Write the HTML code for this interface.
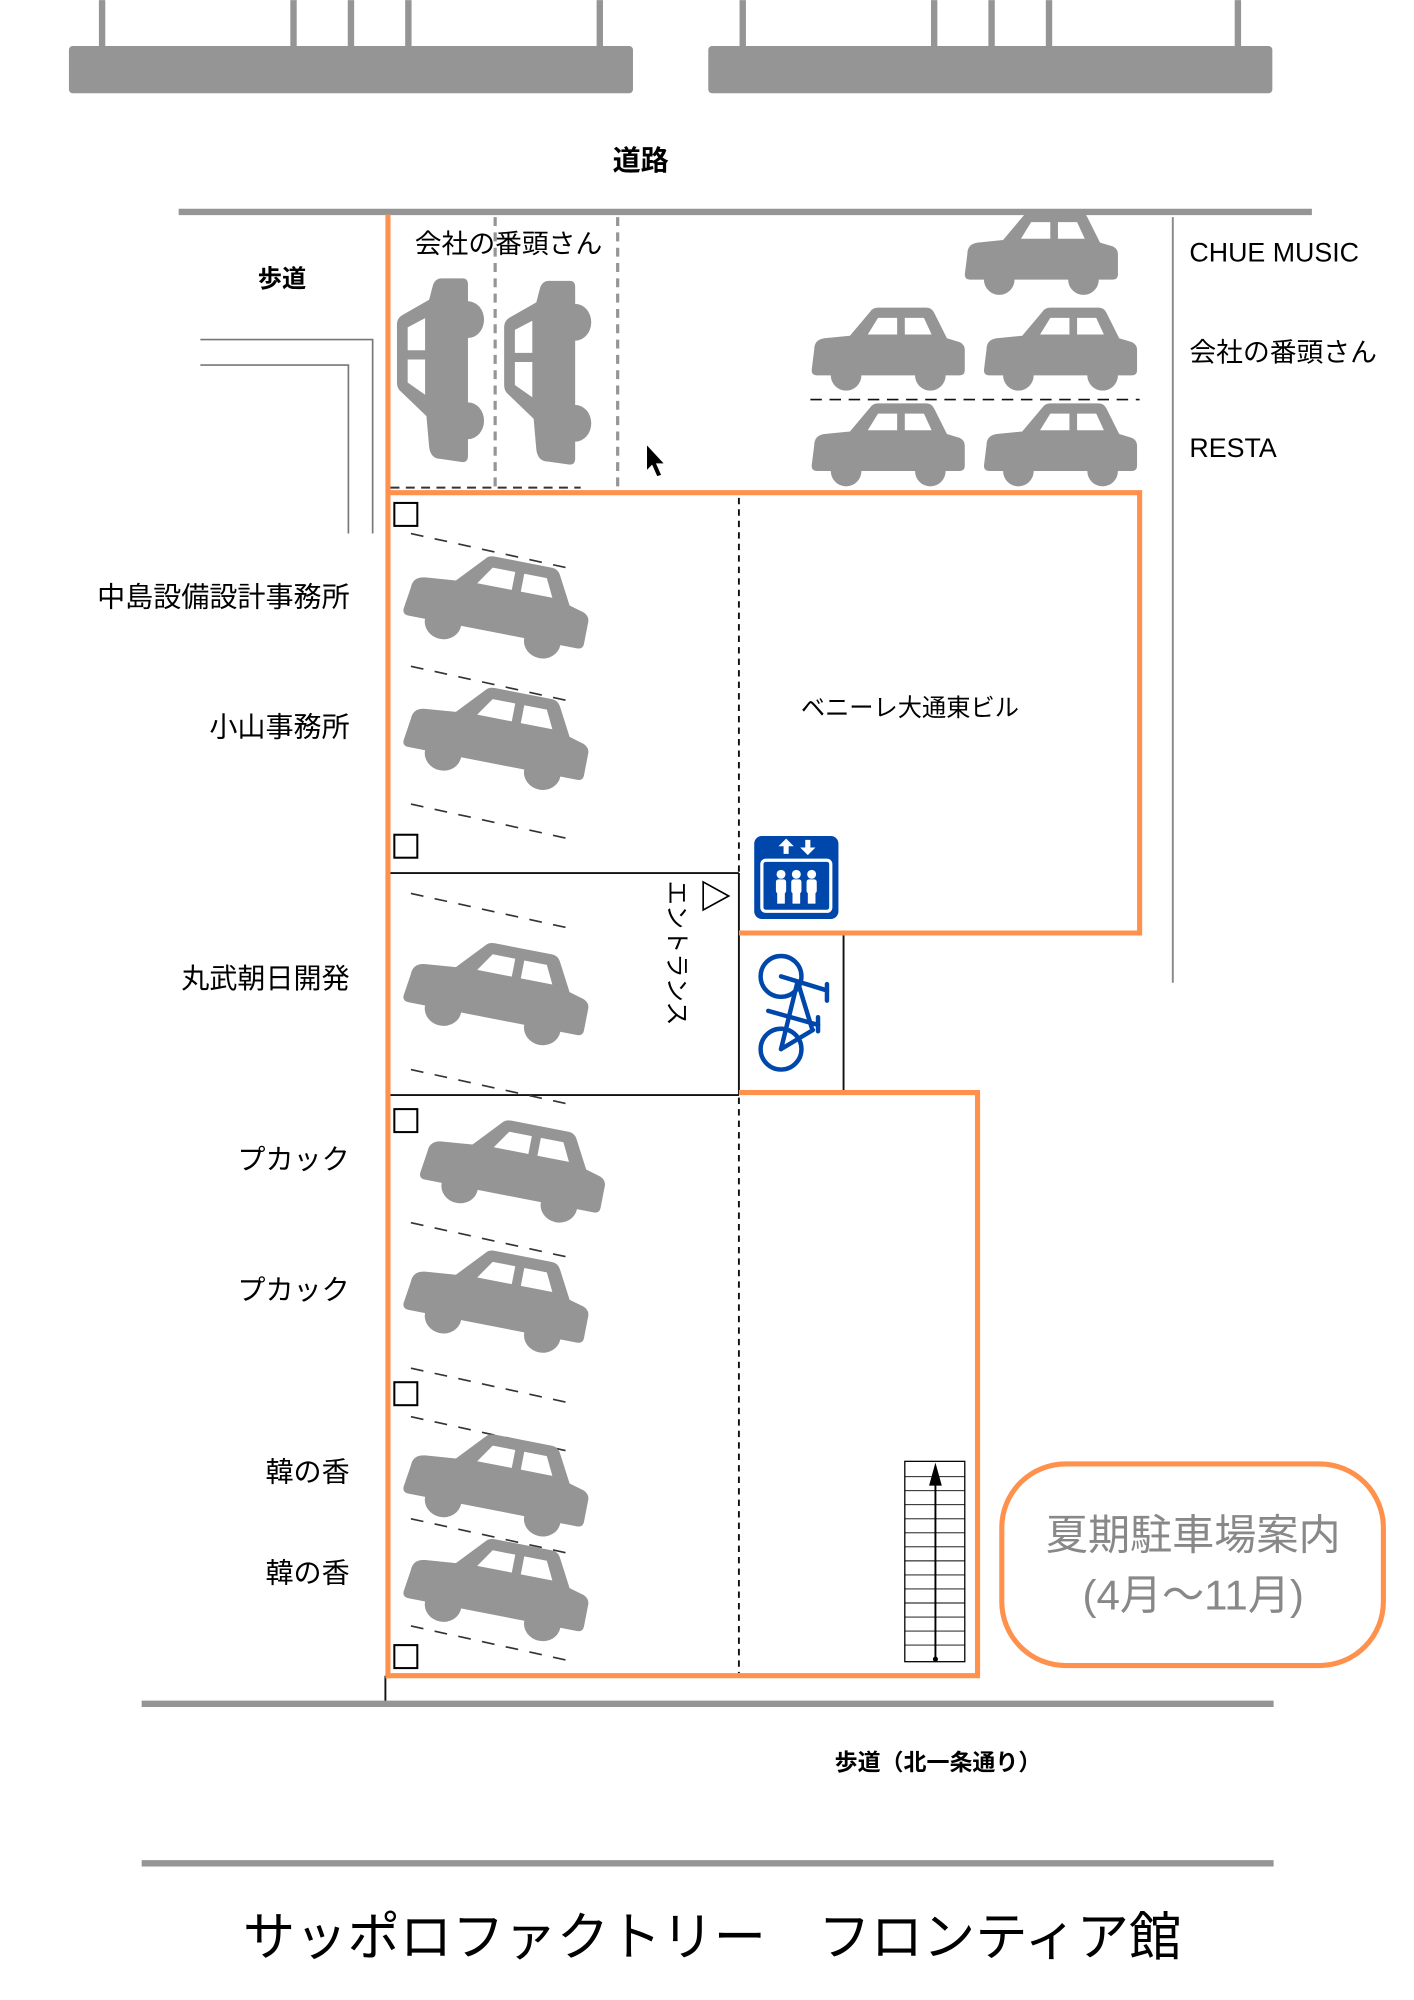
<!DOCTYPE html>
<html><head><meta charset="utf-8"><style>
html,body{margin:0;padding:0;background:#fff}
svg{display:block}
text{font-family:"Liberation Sans","Noto Sans CJK JP",sans-serif}
</style></head><body>
<svg width="1414" height="2000" viewBox="0 0 1108 1567" xmlns="http://www.w3.org/2000/svg">
<defs>
<g id="car">
<path d="M-58,-6 Q-58,-14 -50,-15 L-30,-17 L-14,-36 Q-12,-39 -8,-39 L30,-39 Q34,-39 36,-35 L46,-15 L56,-12 Q60,-10 60,-6 L60,10 Q60,14 56,14 L-56,14 Q-60,14 -60,10 Z" fill="#959595"/>
<circle cx="-33" cy="14" r="12" fill="#959595"/><circle cx="33" cy="14" r="12" fill="#959595"/>
<path d="M-16,-18 L-8,-31 L7,-31 L7,-18 Z M13,-18 L13,-31 L28,-31 L34,-18 Z" fill="#fff"/>
</g>
</defs>
<rect width="1108" height="1567" fill="#fff"/>
<g stroke="#959595" stroke-width="5">
<line x1="80" y1="0" x2="80" y2="38"/><line x1="230" y1="0" x2="230" y2="38"/><line x1="275" y1="0" x2="275" y2="38"/><line x1="320" y1="0" x2="320" y2="38"/><line x1="470" y1="0" x2="470" y2="38"/>
<line x1="582" y1="0" x2="582" y2="38"/><line x1="732" y1="0" x2="732" y2="38"/><line x1="777" y1="0" x2="777" y2="38"/><line x1="822" y1="0" x2="822" y2="38"/><line x1="970" y1="0" x2="970" y2="38"/>
</g>
<rect x="54" y="36" width="442" height="37" rx="3" fill="#959595"/>
<rect x="555" y="36" width="442" height="37" rx="3" fill="#959595"/>
<text x="502" y="133" font-size="22" font-weight="bold" text-anchor="middle">道路</text>
<line x1="140" y1="166" x2="1028" y2="166" stroke="#959595" stroke-width="5"/>
<text x="221" y="225" font-size="19" font-weight="bold" text-anchor="middle">歩道</text>
<polyline points="157,266 292,266 292,418" fill="none" stroke="#777" stroke-width="1.3"/>
<polyline points="157,286 273,286 273,418" fill="none" stroke="#777" stroke-width="1.3"/>
<g stroke="#959595" stroke-width="2.5" stroke-dasharray="7,5">
<line x1="388" y1="170" x2="388" y2="383"/><line x1="484" y1="170" x2="484" y2="383"/>
</g>
<line x1="306" y1="382" x2="455" y2="382" stroke="#333" stroke-width="1.5" stroke-dasharray="7,5"/>
<use href="#car" transform="translate(352,290) rotate(-90) scale(1.2,1.05)"/>
<use href="#car" transform="translate(436,292) rotate(-90) scale(1.2,1.05)"/>
<text x="325" y="198" font-size="21">会社の番頭さん</text>
<use href="#car" transform="translate(816,205)"/>
<use href="#car" transform="translate(696,280)"/>
<use href="#car" transform="translate(831,280)"/>
<use href="#car" transform="translate(696,355)"/>
<use href="#car" transform="translate(831,355)"/>
<line x1="635" y1="313" x2="893" y2="313" stroke="#111" stroke-width="1.3" stroke-dasharray="9,6"/>
<line x1="919" y1="170" x2="919" y2="770" stroke="#888" stroke-width="1.5"/>
<text x="932" y="205" font-size="21">CHUE MUSIC</text>
<text x="932" y="283" font-size="21">会社の番頭さん</text>
<text x="932" y="358" font-size="21">RESTA</text>
<path d="M507,349 L507,368 L511,364 L515,373 L518,372 L514,363 L520,363 Z" fill="#000"/>
<g stroke="#111" stroke-width="1.5" stroke-dasharray="5,4">
<line x1="579" y1="390" x2="579" y2="684"/><line x1="579" y1="860" x2="579" y2="1311"/>
</g>
<g stroke="#111" stroke-width="1.5" fill="none">
<line x1="306" y1="684" x2="579" y2="684"/><line x1="306" y1="858" x2="579" y2="858"/>
<line x1="579" y1="684" x2="579" y2="858"/>
<line x1="661" y1="731" x2="661" y2="855"/>
<line x1="302" y1="1313" x2="302" y2="1334"/>
</g>
<g stroke="#333" stroke-width="1.3" stroke-dasharray="10,9">
<line x1="322" y1="418" x2="445" y2="445"/>
<line x1="322" y1="522" x2="445" y2="549"/>
<line x1="322" y1="630" x2="445" y2="657"/>
<line x1="322" y1="700" x2="445" y2="727"/>
<line x1="322" y1="838" x2="445" y2="865"/>
<line x1="322" y1="958" x2="445" y2="985"/>
<line x1="322" y1="1072" x2="445" y2="1099"/>
<line x1="322" y1="1110" x2="445" y2="1137"/>
<line x1="322" y1="1190" x2="445" y2="1217"/>
<line x1="322" y1="1274" x2="445" y2="1301"/>
</g>
<g>
<use href="#car" transform="translate(389,480) rotate(11) scale(1.2,1.1)"/>
<use href="#car" transform="translate(389,583) rotate(11) scale(1.2,1.1)"/>
<use href="#car" transform="translate(389,783) rotate(11) scale(1.2,1.1)"/>
<use href="#car" transform="translate(402,922) rotate(11) scale(1.2,1.1)"/>
<use href="#car" transform="translate(389,1024) rotate(11) scale(1.2,1.1)"/>
<use href="#car" transform="translate(389,1168) rotate(11) scale(1.2,1.1)"/>
<use href="#car" transform="translate(389,1250) rotate(11) scale(1.2,1.1)"/>
</g>
<g fill="#fff" stroke="#000" stroke-width="1.6">
<rect x="309" y="394" width="18" height="18"/><rect x="309" y="654" width="18" height="18"/>
<rect x="309" y="869" width="18" height="18"/><rect x="309" y="1083" width="18" height="18"/>
<rect x="309" y="1289" width="18" height="18"/>
</g>
<g stroke="#FF914D" stroke-width="4" fill="none">
<line x1="304" y1="168" x2="304" y2="1315"/>
<polyline points="304,386 893,386 893,731 579,731"/>
<polyline points="579,856 766,856 766,1313 302,1313"/>
<rect x="785" y="1147" width="299" height="158" rx="50"/>
</g>
<g font-size="22" text-anchor="end">
<text x="274" y="475">中島設備設計事務所</text>
<text x="274" y="577">小山事務所</text>
<text x="274" y="774">丸武朝日開発</text>
<text x="274" y="916">プカック</text>
<text x="274" y="1018">プカック</text>
<text x="274" y="1161">韓の香</text>
<text x="274" y="1240">韓の香</text>
</g>
<text x="713" y="561" font-size="19" text-anchor="middle">ベニーレ大通東ビル</text>
<rect x="591" y="655" width="66" height="65" rx="6" fill="#0047AB"/>
<rect x="597" y="674" width="54" height="40" rx="3" fill="none" stroke="#fff" stroke-width="2.5"/>
<path d="M616,657 l-6,6 h4 v6 h4 v-6 h4 z M633,670 l-6,-6 h4 v-6 h4 v6 h4 z" fill="#fff"/>
<g fill="#fff">
<circle cx="612" cy="685" r="3.5"/><rect x="608" y="689" width="8" height="11" rx="2"/><rect x="609" y="699" width="6" height="9"/>
<circle cx="624" cy="685" r="3.5"/><rect x="620" y="689" width="8" height="11" rx="2"/><rect x="621" y="699" width="6" height="9"/>
<circle cx="636" cy="685" r="3.5"/><rect x="632" y="689" width="8" height="11" rx="2"/><rect x="633" y="699" width="6" height="9"/>
</g>
<path d="M551,691 L571,702 L551,713 Z" fill="#fff" stroke="#000" stroke-width="1.3"/>
<text transform="translate(524,690) rotate(90)" font-size="19">エントランス</text>
<g stroke="#0047AB" stroke-width="3.5" fill="none" stroke-linecap="round">
<circle cx="612" cy="765" r="16"/><circle cx="612" cy="822" r="16"/>
<line x1="612" y1="765" x2="648" y2="776"/><line x1="625" y1="769" x2="612" y2="822"/>
<line x1="602" y1="792" x2="641" y2="803"/><line x1="625" y1="769" x2="636" y2="805"/>
<line x1="648" y1="771" x2="648" y2="784"/><line x1="641" y1="797" x2="641" y2="808"/>
<line x1="612" y1="822" x2="637" y2="807"/>
</g>
<rect x="709" y="1145" width="47" height="157" fill="#fff" stroke="#000" stroke-width="1"/>
<g stroke="#000" stroke-width="0.7">
<line x1="709" y1="1157" x2="756" y2="1157"/><line x1="709" y1="1168" x2="756" y2="1168"/><line x1="709" y1="1179" x2="756" y2="1179"/><line x1="709" y1="1190" x2="756" y2="1190"/><line x1="709" y1="1201" x2="756" y2="1201"/><line x1="709" y1="1212" x2="756" y2="1212"/><line x1="709" y1="1223" x2="756" y2="1223"/><line x1="709" y1="1234" x2="756" y2="1234"/><line x1="709" y1="1245" x2="756" y2="1245"/><line x1="709" y1="1256" x2="756" y2="1256"/><line x1="709" y1="1267" x2="756" y2="1267"/><line x1="709" y1="1278" x2="756" y2="1278"/><line x1="709" y1="1289" x2="756" y2="1289"/>
</g>
<line x1="733" y1="1300" x2="733" y2="1160" stroke="#000" stroke-width="1.5"/>
<path d="M733,1146 L728,1164 L738,1164 Z" fill="#000"/>
<circle cx="733" cy="1300" r="2" fill="#000"/>
<text x="935" y="1214" font-size="33" fill="#888" text-anchor="middle">夏期駐車場案内</text>
<text x="935" y="1261" font-size="33" fill="#888" text-anchor="middle">(4月～11月)</text>
<line x1="111" y1="1335" x2="998" y2="1335" stroke="#959595" stroke-width="5"/>
<text x="735" y="1387" font-size="18" font-weight="bold" text-anchor="middle">歩道（北一条通り）</text>
<line x1="111" y1="1460" x2="998" y2="1460" stroke="#959595" stroke-width="5"/>
<text x="558" y="1532" font-size="41" text-anchor="middle">サッポロファクトリー　フロンティア館</text>
</svg>
</body></html>
